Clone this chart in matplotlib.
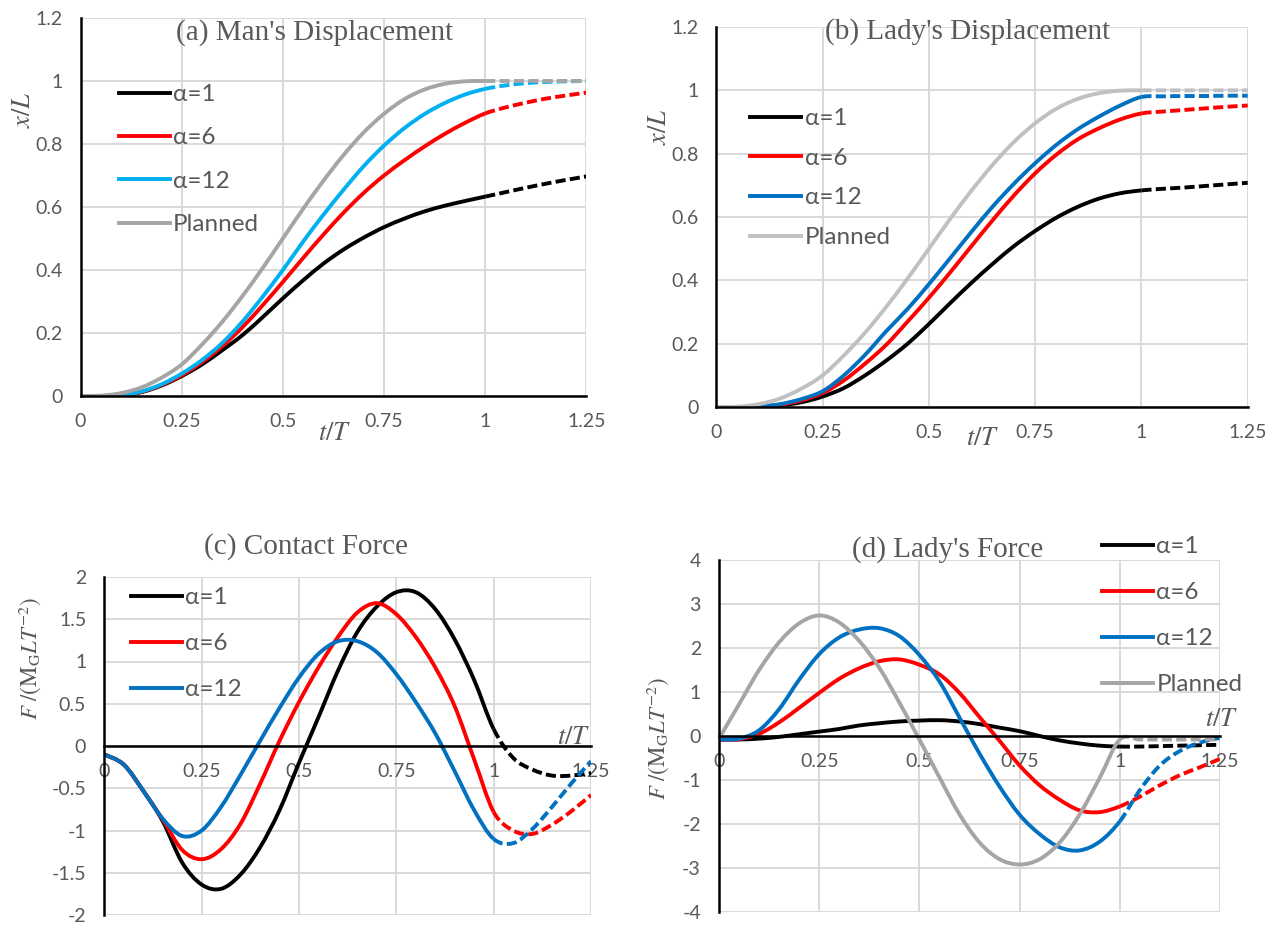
import numpy as np
import matplotlib.pyplot as plt
from matplotlib.lines import Line2D
from matplotlib.path import Path
from matplotlib.patches import PathPatch

plt.rcParams['font.family'] = ['Lato', 'DejaVu Sans']
plt.rcParams['mathtext.fontset'] = 'stix'

# time axis t/T (solid up to 1, dashed after)
t = [0, 0.05, 0.1, 0.15, 0.2, 0.25, 0.3, 0.35, 0.4, 0.45, 0.5, 0.55, 0.6,
     0.65, 0.7, 0.75, 0.8, 0.85, 0.9, 0.95, 1.0, 1.05, 1.1, 1.15, 1.2, 1.25]

# (a) man's displacement x/L
a_alpha1 = [0, 0, 0.002, 0.012, 0.033, 0.063, 0.1, 0.145, 0.193, 0.25, 0.31, 0.367, 0.42,
            0.465, 0.503, 0.536, 0.563, 0.586, 0.604, 0.619, 0.633, 0.647, 0.661, 0.674, 0.686, 0.697]
a_alpha6 = [0, 0, 0.002, 0.013, 0.035, 0.066, 0.107, 0.158, 0.218, 0.288, 0.362, 0.438, 0.512,
            0.582, 0.645, 0.70, 0.748, 0.792, 0.832, 0.867, 0.897, 0.916, 0.931, 0.944, 0.954, 0.963]
a_alpha12 = [0, 0, 0.003, 0.014, 0.037, 0.071, 0.114, 0.168, 0.236, 0.315, 0.40, 0.49, 0.575,
             0.655, 0.73, 0.795, 0.85, 0.895, 0.93, 0.957, 0.975, 0.986, 0.993, 0.997, 0.999, 1.0]
planned_x = [0, 0.001, 0.009, 0.027, 0.058, 0.1, 0.163, 0.235, 0.317, 0.406, 0.5, 0.594, 0.683,
             0.765, 0.837, 0.896, 0.942, 0.973, 0.991, 0.999, 1.0, 1.0, 1.0, 1.0, 1.0, 1.0]

# (b) lady's displacement x/L
b_alpha1 = [0, 0, 0, 0.005, 0.015, 0.033, 0.06, 0.10, 0.147, 0.2, 0.262, 0.328, 0.392,
            0.452, 0.508, 0.556, 0.598, 0.632, 0.658, 0.675, 0.684, 0.689, 0.693, 0.698, 0.703, 0.708]
b_alpha6 = [0, 0, 0.001, 0.007, 0.021, 0.044, 0.084, 0.137, 0.197, 0.27, 0.345, 0.425, 0.508,
            0.59, 0.668, 0.738, 0.797, 0.845, 0.88, 0.908, 0.927, 0.933, 0.938, 0.943, 0.948, 0.952]
b_alpha12 = [0, 0, 0.002, 0.009, 0.025, 0.05, 0.1, 0.165, 0.24, 0.31, 0.388, 0.47, 0.553,
             0.633, 0.705, 0.77, 0.828, 0.877, 0.917, 0.952, 0.979, 0.981, 0.982, 0.982, 0.983, 0.983]

# (c) contact force
c_alpha1 = [-0.1, -0.22, -0.53, -0.89, -1.38, -1.64, -1.69, -1.52, -1.2, -0.76, -0.2, 0.34, 0.89,
            1.35, 1.65, 1.82, 1.82, 1.62, 1.26, 0.78, 0.2, -0.14, -0.28, -0.35, -0.35, -0.32]
c_alpha6 = [-0.1, -0.22, -0.53, -0.87, -1.23, -1.34, -1.22, -0.92, -0.45, 0.06, 0.52, 0.93, 1.29,
            1.58, 1.69, 1.56, 1.29, 0.93, 0.47, -0.16, -0.78, -1.0, -1.04, -0.93, -0.77, -0.58]
c_alpha12 = [-0.1, -0.22, -0.53, -0.86, -1.065, -1.0, -0.72, -0.34, 0.06, 0.45, 0.81, 1.09, 1.24,
             1.24, 1.11, 0.85, 0.52, 0.15, -0.3, -0.76, -1.1, -1.15, -0.98, -0.72, -0.44, -0.18]

# (d) lady's force
d_alpha1 = [-0.08, -0.08, -0.06, -0.02, 0.04, 0.1, 0.16, 0.24, 0.29, 0.33, 0.35, 0.36, 0.33,
            0.27, 0.19, 0.11, 0.0, -0.1, -0.17, -0.22, -0.24, -0.24, -0.23, -0.22, -0.21, -0.2]
d_alpha6 = [-0.08, -0.07, 0.05, 0.31, 0.64, 0.98, 1.3, 1.54, 1.7, 1.74, 1.62, 1.4, 0.98,
            0.43, -0.11, -0.67, -1.12, -1.45, -1.69, -1.73, -1.6, -1.38, -1.12, -0.89, -0.71, -0.52]
d_alpha12 = [-0.08, -0.06, 0.13, 0.61, 1.28, 1.86, 2.24, 2.42, 2.45, 2.27, 1.84, 1.24, 0.42,
             -0.4, -1.15, -1.79, -2.23, -2.53, -2.6, -2.4, -1.94, -1.23, -0.67, -0.34, -0.15, -0.04]
planned_f = [-0.06, 0.72, 1.5, 2.13, 2.56, 2.74, 2.58, 2.16, 1.55, 0.76, -0.08, -0.94, -1.78,
             -2.42, -2.8, -2.92, -2.8, -2.42, -1.78, -0.95, -0.08, -0.08, -0.08, -0.08, -0.08, -0.08]

t_ticks = [0, 0.25, 0.5, 0.75, 1, 1.25]
t_labels = ['0', '0.25', '0.5', '0.75', '1', '1.25']
disp_ticks = [0, 0.2, 0.4, 0.6, 0.8, 1.0, 1.2]
disp_labels = ['0', '0.2', '0.4', '0.6', '0.8', '1', '1.2']
fc_ticks = [-2, -1.5, -1, -0.5, 0, 0.5, 1, 1.5, 2]
fc_labels = ['-2', '-1.5', '-1', '-0.5', '0', '0.5', '1', '1.5', '2']
fd_ticks = [-4, -3, -2, -1, 0, 1, 2, 3, 4]
fd_labels = ['-4', '-3', '-2', '-1', '0', '1', '2', '3', '4']

GREY_TXT = '#595959'
BLACK, RED = '#000000', '#ff0000'
SKY, BLUE = '#00b0f0', '#0070c0'
GREY, LIGHT_GREY = '#a5a5a5', '#c0c0c0'
LW = 2.8
SPLIT = 20   # index of t = 1

W, H = 1280, 925
fig = plt.figure(figsize=(12.8, 9.25), dpi=100)


def box(left, top, right, bottom):
    return [left / W, 1 - bottom / H, (right - left) / W, (bottom - top) / H]


def fxy(x, y):
    return x / W, 1 - y / H


def setup(ax, ylim, yticks, ylabels):
    ax.set_xlim(0, 1.25)
    ax.set_ylim(*ylim)
    ax.set_xticks(t_ticks)
    ax.set_xticklabels(t_labels)
    ax.set_yticks(yticks)
    ax.set_yticklabels(ylabels)
    ax.grid(True, color='#d9d9d9', lw=1.4)
    ax.set_axisbelow(True)
    ax.spines['top'].set_visible(False)
    ax.spines['right'].set_visible(False)
    ax.spines['left'].set_linewidth(1.8)
    ax.spines['bottom'].set_position(('data', 0))
    ax.spines['bottom'].set_linewidth(1.8)
    ax.tick_params(length=0, colors=GREY_TXT, labelsize=14)
    ax.tick_params(axis='x', pad=12)
    ax.tick_params(axis='y', pad=13)


def bezier_segments(x, y):
    # smoothed line through the points (cubic pieces, like a spreadsheet "smooth line")
    p = np.column_stack([x, y]).astype(float)
    n = len(p)
    segs = []
    for i in range(n - 1):
        p0 = p[i - 1] if i > 0 else p[i]
        p3 = p[i + 2] if i + 2 < n else p[i + 1]
        c1 = p[i] + (p[i + 1] - p0) / 6
        c2 = p[i + 1] - (p3 - p[i]) / 6
        segs.append((p[i], c1, c2, p[i + 1]))
    return segs


def seg_path(segs):
    verts = [segs[0][0]]
    codes = [Path.MOVETO]
    for _, c1, c2, end in segs:
        verts += [c1, c2, end]
        codes += [Path.CURVE4] * 3
    return Path(verts, codes)


def draw(ax, y, color):
    segs = bezier_segments(t, y)
    ax.add_patch(PathPatch(seg_path(segs[:SPLIT]), fill=False, edgecolor=color,
                           lw=LW, capstyle='butt', joinstyle='round'))
    ax.add_patch(PathPatch(seg_path(segs[SPLIT:]), fill=False, edgecolor=color,
                           lw=LW, linestyle=(0, (2.6, 1.1)), capstyle='butt'))


def legend(entries, x, y, spacing):
    handles = [Line2D([], [], color=c, lw=LW) for c, _ in entries]
    labels = [lab for _, lab in entries]
    fig.legend(handles, labels, loc='upper left', bbox_to_anchor=fxy(x, y - 9),
               frameon=False, borderpad=0, borderaxespad=0, handlelength=2.1,
               handletextpad=0.15, labelspacing=spacing, fontsize=17.5,
               labelcolor=GREY_TXT)


def title(text, x, y):
    fig.text(*fxy(x, y), text, ha='center', va='center', fontsize=21,
             family='Liberation Serif', color=GREY_TXT)


def label(text, x, y, rot=0, size=19):
    fig.text(*fxy(x, y), text, ha='center', va='center', fontsize=size,
             rotation=rot, color=GREY_TXT)


ylab_f = r'$F\ /(\mathrm{M}_{\mathrm{G}}LT^{-2})$'

# (a)
ax = fig.add_axes(box(80.5, 18, 586.4, 396))
setup(ax, (0, 1.2), disp_ticks, disp_labels)
for y, c in [(a_alpha1, BLACK), (a_alpha6, RED), (a_alpha12, SKY), (planned_x, GREY)]:
    draw(ax, y, c)
title("(a) Man's Displacement", 315, 33)
label(r'$x/L$', 22, 110, rot=90)
label(r'$t/T$', 335, 433)
legend([(BLACK, 'α=1'), (RED, 'α=6'), (SKY, 'α=12'), (GREY, 'Planned')], 118.5, 93, 0.92)

# (b)
ax = fig.add_axes(box(716.4, 27, 1247.7, 407))
setup(ax, (0, 1.2), disp_ticks, disp_labels)
for y, c in [(b_alpha1, BLACK), (b_alpha6, RED), (b_alpha12, BLUE), (planned_x, LIGHT_GREY)]:
    draw(ax, y, c)
title("(b) Lady's Displacement", 968, 32)
label(r'$x/L$', 658, 127, rot=90)
label(r'$t/T$', 983, 437)
legend([(BLACK, 'α=1'), (RED, 'α=6'), (BLUE, 'α=12'), (LIGHT_GREY, 'Planned')], 750, 117, 0.77)

# (c)
ax = fig.add_axes(box(104.3, 577, 591, 915))
setup(ax, (-2, 2), fc_ticks, fc_labels)
for y, c in [(c_alpha1, BLACK), (c_alpha6, RED), (c_alpha12, BLUE)]:
    draw(ax, y, c)
title('(c) Contact Force', 306, 547)
label(ylab_f, 30, 658, rot=90, size=16.5)
label(r'$t/T$', 574, 737)
legend([(BLACK, 'α=1'), (RED, 'α=6'), (BLUE, 'α=12')], 130.8, 596, 1.03)

# (d)
ax = fig.add_axes(box(719, 560, 1220, 912))
setup(ax, (-4, 4), fd_ticks, fd_labels)
for y, c in [(d_alpha1, BLACK), (d_alpha6, RED), (d_alpha12, BLUE), (planned_f, GREY)]:
    draw(ax, y, c)
title("(d) Lady's Force", 948, 550)
label(ylab_f, 658, 738, rot=90, size=16.5)
label(r'$t/T$', 1222, 718)
legend([(BLACK, 'α=1'), (RED, 'α=6'), (BLUE, 'α=12'), (GREY, 'Planned')], 1101.8, 545, 1.03)

fig.savefig('out.png', dpi=100)
